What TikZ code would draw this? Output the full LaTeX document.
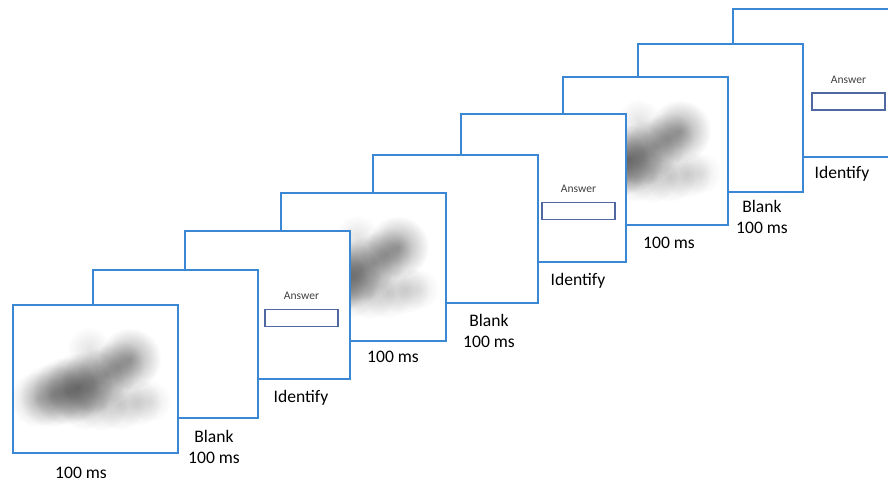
\documentclass[tikz,border=0pt]{standalone}
\usepackage{fontspec}
\setmainfont{Carlito}
\usetikzlibrary{positioning,fadings}
\definecolor{edge}{HTML}{3A88D4}
\definecolor{field}{HTML}{5068A2}
\definecolor{hint}{HTML}{404040}
\definecolor{smudge}{HTML}{202020}
% radial fade, opaque in the middle and clear at the rim
\tikzfading[name=soft, inner color=transparent!0, outer color=transparent!100]

\begin{document}
\begin{tikzpicture}[
  x=0.25mm, y=-0.25mm,
  % one screen of the trial; the white fill hides the screens behind it
  screen/.style  = {draw=edge, fill=white, line width=0.5mm, anchor=north west,
                    inner sep=0pt, minimum width=41.25mm, minimum height=37mm},
  caption/.style = {font=\fontsize{12.5}{15.5}\selectfont, align=center, inner sep=0pt},
  hint/.style    = {font=\fontsize{8.2}{10}\selectfont, text=hint, inner sep=0pt},
  field/.style   = {draw=field, line width=0.4mm, fill=white, inner sep=0pt,
                    minimum width=18.25mm, minimum height=4.25mm},
  puff/.style    = {fill=smudge, path fading=soft},
  % degraded picture, in pixel steps from the screen's top left corner
  stimulus/.pic  = {
    % body
    \fill[puff, fill opacity=.22] (26,95) circle (28);
    \fill[puff, fill opacity=.32] (40,91) circle (32);
    \fill[puff, fill opacity=.40] (54,87) circle (34);
    \fill[puff, fill opacity=.44] (67,83) circle (34);
    \fill[puff, fill opacity=.34] (81,77) circle (32);
    \fill[puff, fill opacity=.26] (94,70) circle (29);
    % head
    \fill[puff, fill opacity=.26] (106,62) circle (26);
    \fill[puff, fill opacity=.42] (118,55) circle (31);
    % lower smear
    \fill[puff, fill opacity=.15] (72,102) circle (24);
    \fill[puff, fill opacity=.17] (90,101) circle (26);
    \fill[puff, fill opacity=.17] (108,100) circle (26);
    \fill[puff, fill opacity=.15] (125,98) circle (24);
    \fill[puff, fill opacity=.11] (138,97) circle (21);
    % faint upper wing
    \fill[puff, fill opacity=.12] (77,45) circle (22);
  },
]
\useasboundingbox (0,0) rectangle (888,482);

% ----------------------------------------------------------- third trial --
\node[screen] (id3) at (732,8) {};
\node[field] (a3) at (848.5,101.5) {};
\node[hint, above=2.2mm of a3] (q3) {Answer};
\node[screen] (blank3) at (637,43) {};
\node[screen] (img3) at (562,76) {};
\pic at (img3.north west) {stimulus};

% ---------------------------------------------------------- second trial --
\node[screen] (id2) at (460,113) {};
\node[field] (a2) at (578.5,211) {};
\node[hint, above=2.2mm of a2] (q2) {Answer};
\node[screen] (blank2) at (372,154) {};
\node[screen] (img2) at (280,192) {};
\pic at (img2.north west) {stimulus};

% ----------------------------------------------------------- first trial --
\node[screen] (id1) at (184,230) {};
\node[field] (a1) at (301.5,318) {};
\node[hint, above=2.2mm of a1] (q1) {Answer};
\node[screen] (blank1) at (92,269) {};
\node[screen] (img1) at (12,304) {};
\pic at (img1.north west) {stimulus};

% -------------------------------------------------------------- captions --
\node[caption] (c1) at (81,473)  {100 ms};
\node[caption] (c2) at (214,447) {Blank\\100 ms};
\node[caption] (c3) at (301,398) {Identify};
\node[caption] (c4) at (393,357) {100 ms};
\node[caption] (c5) at (489,331) {Blank\\100 ms};
\node[caption] (c6) at (578,281) {Identify};
\node[caption] (c7) at (669,243) {100 ms};
\node[caption] (c8) at (762,217) {Blank\\100 ms};
\node[caption] (c9) at (842,174) {Identify};

\end{tikzpicture}
\end{document}
